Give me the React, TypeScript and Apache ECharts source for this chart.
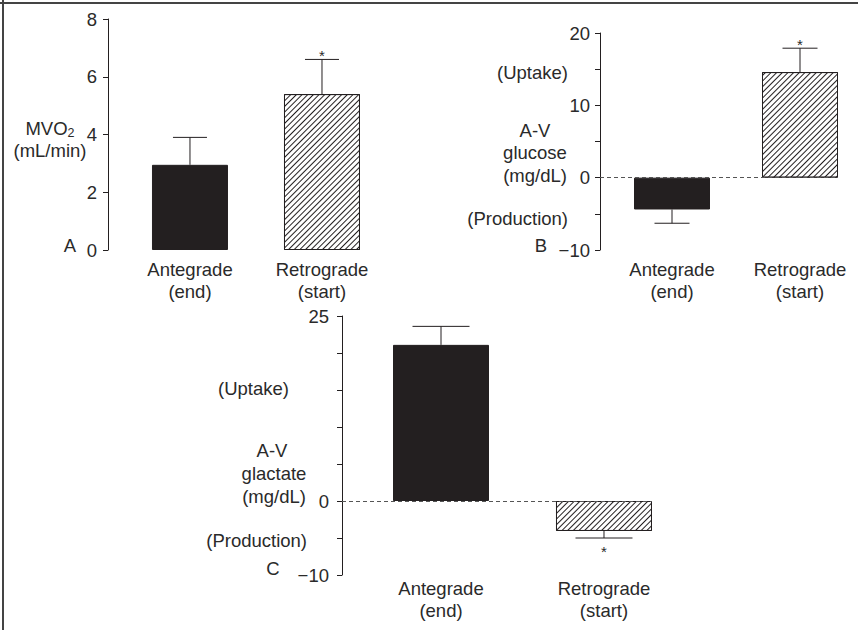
import React, { useEffect, useRef } from 'react';
import * as echarts from 'echarts';

// ---- data ----
const categories = ['Antegrade\n(end)', 'Retrograde\n(start)'];
const positions = [1, 2];

const mvo2Mean = [2.95, 5.4];
const mvo2Err = [0.95, 1.2];
const mvo2Sig = [false, true];
const mvo2TickLabels = [0, 2, 4, 6, 8];

const glucoseMean = [-4.4, 14.6];
const glucoseErr = [1.9, 3.3];
const glucoseSig = [false, true];
const glucoseTickLabels = [-10, 0, 10, 20];

const lactateMean = [21.1, -4.05];
const lactateErr = [2.5, 0.95];
const lactateSig = [false, true];
const lactateTickLabels = [-10, 0, 25];

// ---- styles / layout ----
const FONT = '"Liberation Sans", Arial, Helvetica, sans-serif';
const INK = '#231f20';
const TXT = '#2a2a2a';
const FS = 18.5;

const panels = [
  {
    mean: mvo2Mean, err: mvo2Err, sig: mvo2Sig, ticks: mvo2TickLabels,
    left: 108, width: 280, top: 19, height: 231,
    xMin: 0.379, xMax: 2.5, yMin: 0, yMax: 8, interval: 2,
    barWidth: 76, capWidth: 34, yMargin: 11, xMargin: 8, zeroLine: false,
  },
  {
    mean: glucoseMean, err: glucoseErr, sig: glucoseSig, ticks: glucoseTickLabels,
    left: 600, width: 237, top: 33, height: 217,
    xMin: 0.4375, xMax: 2.289, yMin: -10, yMax: 20, interval: 5,
    barWidth: 76, capWidth: 35, yMargin: 10, xMargin: 8, zeroLine: true,
  },
  {
    mean: lactateMean, err: lactateErr, sig: lactateSig, ticks: lactateTickLabels,
    left: 342, width: 310, top: 316, height: 259,
    xMin: 0.3926, xMax: 2.2945, yMin: -10, yMax: 25, interval: 5,
    barWidth: 96, capWidth: 57, yMargin: 13, xMargin: 2, zeroLine: true,
  },
];

const fmtNum = (v: number) => (v < 0 ? '\u2212' + Math.abs(v) : String(v));

const hatch = {
  symbol: 'rect',
  symbolSize: 1,
  dashArrayX: [1, 0],
  dashArrayY: [1, 2.6],
  rotation: -Math.PI / 4,
  color: INK,
};

function buildOption() {
  const grid: any[] = [];
  const xAxis: any[] = [];
  const yAxis: any[] = [];
  const series: any[] = [];

  panels.forEach((p, i) => {
    grid.push({ left: p.left, top: p.top, width: p.width, height: p.height, containLabel: false });
    xAxis.push({
      type: 'value', gridIndex: i, min: p.xMin, max: p.xMax,
      axisLine: { show: false, onZero: false },
      axisTick: { show: false },
      splitLine: { show: false },
      axisLabel: {
        customValues: positions,
        formatter: (v: number) => categories[positions.indexOf(v)] ?? '',
        fontSize: FS, lineHeight: 22, color: TXT, fontFamily: FONT, margin: p.xMargin,
        align: 'center',
      },
    });
    yAxis.push({
      type: 'value', gridIndex: i, min: p.yMin, max: p.yMax, interval: p.interval,
      axisLine: { show: true, onZero: false, lineStyle: { color: INK, width: 1 } },
      axisTick: { show: true, length: 5, lineStyle: { color: INK, width: 1 } },
      splitLine: { show: false },
      axisLabel: {
        formatter: (v: number) => (p.ticks.includes(v) ? fmtNum(v) : ''),
        fontSize: FS, color: TXT, fontFamily: FONT, margin: p.yMargin,
      },
    });
    series.push({
      type: 'bar', xAxisIndex: i, yAxisIndex: i, barWidth: p.barWidth,
      data: positions.map((x, k) => ({
        value: [x, p.mean[k]],
        itemStyle: k === 0
          ? { color: INK, borderColor: INK, borderWidth: 1 }
          : { color: '#ffffff', borderColor: INK, borderWidth: 1, decal: hatch },
      })),
      markLine: p.zeroLine
        ? {
            silent: true, symbol: 'none', label: { show: false },
            lineStyle: { type: [4, 3], color: '#555', width: 1 },
            data: [{ yAxis: 0 }],
          }
        : undefined,
      z: 2,
    });
    series.push({
      type: 'custom', xAxisIndex: i, yAxisIndex: i, z: 5,
      data: positions.map((x, k) => [
        x, p.mean[k], p.mean[k] + (p.mean[k] >= 0 ? p.err[k] : -p.err[k]), p.sig[k] ? 1 : 0,
      ]),
      renderItem: (params: any, api: any) => {
        const x = api.value(0);
        const m = api.value(1);
        const e = api.value(2);
        const s = api.value(3);
        const base = api.coord([x, m]);
        const tip = api.coord([x, e]);
        const half = p.capWidth / 2;
        const children: any[] = [
          { type: 'line', shape: { x1: base[0], y1: base[1], x2: tip[0], y2: tip[1] }, style: { stroke: INK, lineWidth: 1 } },
          { type: 'line', shape: { x1: tip[0] - half, y1: tip[1], x2: tip[0] + half, y2: tip[1] }, style: { stroke: INK, lineWidth: 1 } },
        ];
        if (s) {
          children.push({
            type: 'text',
            style: {
              text: '*', x: tip[0], y: e > m ? tip[1] - 4 : tip[1] + 13,
              align: 'center', verticalAlign: 'middle', fontSize: 15, fontFamily: FONT, fill: TXT,
            },
          });
        }
        return { type: 'group', children };
      },
    });
  });

  const t = (text: string, x: number, y: number, align = 'center', extra: any = {}) => ({
    type: 'text', silent: true,
    style: { text, x, y, align, verticalAlign: 'middle', fontSize: FS, fontFamily: FONT, fill: TXT, ...extra },
  });

  const graphic: any[] = [
    { type: 'line', shape: { x1: 3, y1: 0, x2: 3, y2: 630 }, style: { stroke: '#444', lineWidth: 2 } },
    { type: 'line', shape: { x1: 0, y1: 3, x2: 858, y2: 3 }, style: { stroke: '#444', lineWidth: 2 } },
    // Panel A
    t('MVO{sub|2}', 50, 128, 'center', { rich: { sub: { fontSize: 12.5, fontFamily: FONT, fill: TXT, padding: [10, 0, 0, 0] } } }),
    t('(mL/min)', 50, 150),
    t('A', 70, 245),
    // Panel B
    t('(Uptake)', 568, 72, 'right'),
    t('A-V', 535, 130),
    t('glucose', 535, 152),
    t('(mg/dL)', 535, 175),
    t('(Production)', 568, 218, 'right'),
    t('B', 541, 245),
    // Panel C
    t('(Uptake)', 289, 388, 'right'),
    t('A-V', 272, 450),
    t('glactate', 274, 473),
    t('(mg/dL)', 274, 496),
    t('(Production)', 307, 540, 'right'),
    t('C', 273, 568),
  ];

  return {
    animation: false,
    backgroundColor: '#ffffff',
    grid, xAxis, yAxis, series, graphic,
  };
}

export default function App() {
  const ref = useRef<HTMLDivElement>(null);
  useEffect(() => {
    if (!ref.current) return;
    const chart = echarts.init(ref.current, undefined, { renderer: 'svg' });
    chart.setOption(buildOption() as any);
    return () => chart.dispose();
  }, []);
  return <div ref={ref} style={{ position: 'fixed', left: 0, top: 0, width: 858, height: 630 }} />;
}
